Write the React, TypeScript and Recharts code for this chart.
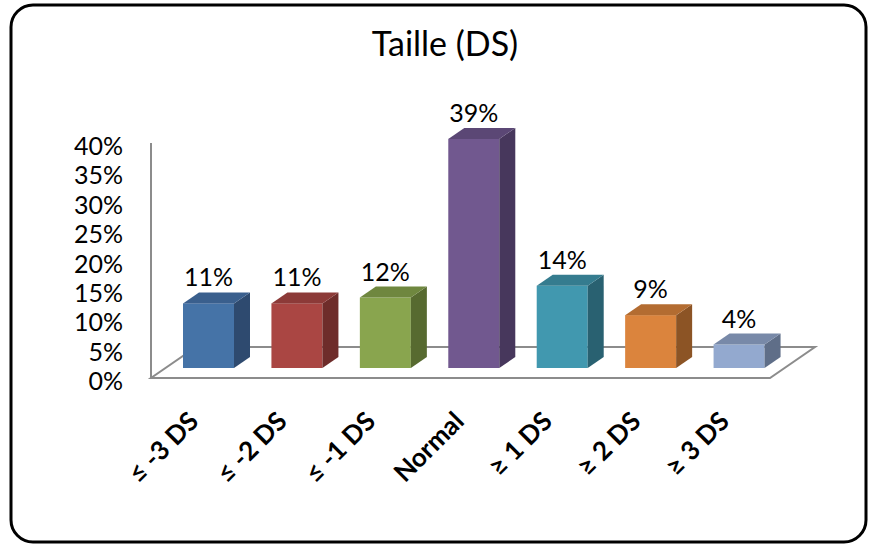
import React from "react"
import { BarChart, Bar, XAxis, YAxis, LabelList, Cell } from "recharts"

const categories = ["≤ -3 DS", "≤ -2 DS", "≤ -1 DS", "Normal", "≥ 1 DS", "≥ 2 DS", "≥ 3 DS"]
const values = [0.11, 0.11, 0.12, 0.39, 0.14, 0.09, 0.04]
const yTicks = [0, 0.05, 0.1, 0.15, 0.2, 0.25, 0.3, 0.35, 0.4]

// front / top / side shades, Excel 2007 palette
const front = ["#4573a7", "#aa4643", "#89a54e", "#71588f", "#4198af", "#db843d", "#93a9cf"]
const top = ["#3a5f8d", "#8c3a38", "#6f873f", "#5b4775", "#357c8f", "#b36c31", "#7889a8"]
const side = ["#2e4a6f", "#6e2c2a", "#576a30", "#47375c", "#296171", "#8c5425", "#5f6e88"]

const data = categories.map((name, i) => ({ name, value: values[i] }))

const W = 870
const H = 544
const PLOT_LEFT = 151
const PLOT_RIGHT = 770
const PLOT_TOP = 143
const PLOT_BOTTOM = 378
// floor depth and the offset of the bars (mid depth)
const FLOOR_DX = 45
const FLOOR_DY = -31
const BAR_DX = 13
const BAR_DY = -10
const SIDE_DX = 16
const SIDE_DY = -11

const font = "Lato, 'Open Sans', sans-serif"

function Bar3D(props: any) {
  const { x, y, width, height, index } = props
  const fx = x + BAR_DX
  const fy = y + BAR_DY
  const w = width
  const h = height
  const topPts = `${fx},${fy} ${fx + SIDE_DX},${fy + SIDE_DY} ${fx + w + SIDE_DX},${fy + SIDE_DY} ${fx + w},${fy}`
  const sidePts = `${fx + w},${fy} ${fx + w + SIDE_DX},${fy + SIDE_DY} ${fx + w + SIDE_DX},${fy + h + SIDE_DY} ${fx + w},${fy + h}`
  return (
    <g>
      <rect x={fx} y={fy} width={w} height={h} fill={front[index]} />
      <polygon points={sidePts} fill={side[index]} />
      <polygon points={topPts} fill={top[index]} />
    </g>
  )
}

function ValueLabel(props: any) {
  const { x, y, width, value } = props
  return (
    <text
      x={x + BAR_DX + width / 2}
      y={y + BAR_DY - 17}
      textAnchor="middle"
      fontFamily={font}
      fontSize={25}
      fill="#000"
    >
      {`${Math.round(value * 100)}%`}
    </text>
  )
}

function CategoryTick(props: any) {
  const { x, y, payload } = props
  const ax = x + 5
  const ay = y + 37
  return (
    <text
      x={ax}
      y={ay}
      transform={`rotate(-45, ${ax}, ${ay})`}
      textAnchor="end"
      fontFamily={font}
      fontWeight="bold"
      fontSize={26}
      fill="#000"
    >
      {payload.value}
    </text>
  )
}

function PercentTick(props: any) {
  const { x, y, payload } = props
  return (
    <text x={x} y={y + 3} dy="0.36em" textAnchor="end" fontFamily={font} fontSize={25} fill="#000">
      {`${Math.round(payload.value * 100)}%`}
    </text>
  )
}

export default function App() {
  const floor = `${PLOT_LEFT},${PLOT_BOTTOM} ${PLOT_RIGHT},${PLOT_BOTTOM} ${PLOT_RIGHT + FLOOR_DX},${PLOT_BOTTOM + FLOOR_DY} ${PLOT_LEFT + FLOOR_DX},${PLOT_BOTTOM + FLOOR_DY}`
  return (
    <div style={{ position: "absolute", left: 0, top: 0, width: W, height: H, background: "#fff" }}>
      <svg width={W} height={H} style={{ position: "absolute", left: 0, top: 0 }}>
        <rect x={11} y={5} width={855} height={537} rx={22} ry={22} fill="#fff" stroke="#000" strokeWidth={3} />
        <text x={445} y={56} textAnchor="middle" fontFamily={font} fontSize={34} fill="#000">
          Taille (DS)
        </text>
        <polygon points={floor} fill="#fff" stroke="#8c8c8c" strokeWidth={2} />
      </svg>
      <div style={{ position: "absolute", left: 0, top: 0 }}>
        <BarChart
          width={W}
          height={H}
          data={data}
          margin={{ top: PLOT_TOP, right: W - PLOT_RIGHT, bottom: H - PLOT_BOTTOM - 100, left: PLOT_LEFT - 60 }}
          barCategoryGap={0}
        >
          <XAxis dataKey="name" height={100} axisLine={false} tickLine={false} interval={0} tick={<CategoryTick />} />
          <YAxis
            width={60}
            domain={[0, 0.4]}
            ticks={yTicks}
            interval={0}
            axisLine={{ stroke: "#8c8c8c", strokeWidth: 2 }}
            tickLine={false}
            tickSize={0}
            tickMargin={28}
            tick={<PercentTick />}
          />
          <Bar dataKey="value" barSize={51} shape={<Bar3D />} isAnimationActive={false}>
            {data.map((d, i) => (
              <Cell key={i} fill={front[i]} />
            ))}
            <LabelList dataKey="value" content={<ValueLabel />} />
          </Bar>
        </BarChart>
      </div>
    </div>
  )
}
